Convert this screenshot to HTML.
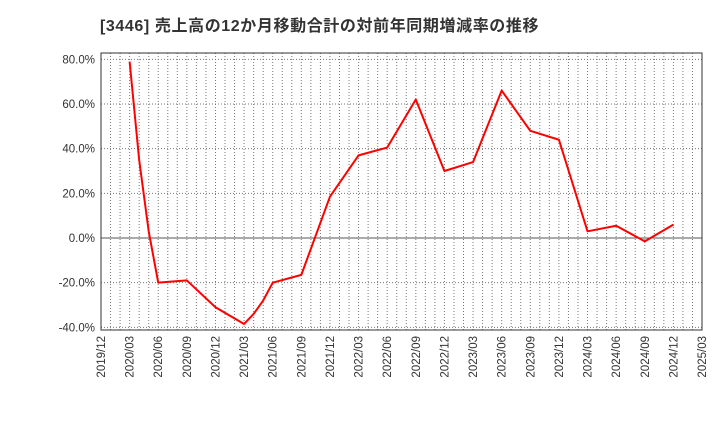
<!DOCTYPE html>
<html><head><meta charset="utf-8"><style>body{margin:0;background:#fff}svg{display:block}</style></head>
<body>
<svg id="c" width="720" height="440" xmlns="http://www.w3.org/2000/svg">
<text x="100" y="31" font-family="Liberation Sans, Noto Sans CJK JP, sans-serif" font-size="16" letter-spacing="0.6" font-weight="bold" fill="#333">[3446]  売上高の12か月移動合計の対前年同期増減率の推移</text>
</svg>
<script>
const yTicks=[80,60,40,20,0,-20,-40];
const xLabels=["2019/12","2020/03","2020/06","2020/09","2020/12","2021/03","2021/06","2021/09","2021/12","2022/03","2022/06","2022/09","2022/12","2023/03","2023/06","2023/09","2023/12","2024/03","2024/06","2024/09","2024/12","2025/03"];
// month offsets from 2019/12
const months=[3,4,5,6,9,12,15,16,17,18,21,24,27,30,33,36,39,42,45,48,51,54,57,60];
const values=[79,35,3,-20,-19,-31,-38.5,-34,-28,-20,-16.5,18.5,37,40.5,62,30,34,66,48,44,3,5.5,-1.5,6];
const svg=document.getElementById('c');const NS='http://www.w3.org/2000/svg';
const L=101,R=702,T=53,B=330;
const x=m=>L+(R-L)*m/63;
const y=v=>238-v*(268/120);
function mk(t,a){const e=document.createElementNS(NS,t);for(const k in a)e.setAttribute(k,a[k]);svg.appendChild(e);return e;}
for(let m=1;m<63;m++){
 const g=mk('line',{x1:x(m),x2:x(m),y1:T,y2:B,stroke:'#777','stroke-width':1,'stroke-dasharray':'1,2'});
 
 
}
yTicks.forEach(v=>{
 const g=mk('line',{x1:L,x2:R,y1:y(v),y2:y(v),stroke:v===0?'#555':'#777','stroke-width':1,'stroke-dasharray':v===0?'':'1,2'});
 
 
 const t=mk('text',{x:L-6,y:y(v)+4,'text-anchor':'end','font-family':'Liberation Sans, sans-serif','font-size':11.5,fill:'#333'});
 t.textContent=v.toFixed(1)+'%';
 
 
});
xLabels.forEach((s,i)=>{
 const px=x(i*3);
 const t=mk('text',{x:px+4,y:336,'text-anchor':'end','font-family':'Liberation Sans, sans-serif','font-size':11.5,fill:'#333',transform:`rotate(-90 ${px+4} 336)`});
 t.textContent=s;
 
 
});
const fr=mk('rect',{x:L,y:T,width:R-L,height:B-T,fill:'none',stroke:'#333','stroke-width':1});


const p=mk('polyline',{points:months.map((m,i)=>x(m)+','+y(values[i])).join(' '),fill:'none',stroke:'#ff0000','stroke-width':2,'stroke-linejoin':'round'});


</script>
</body></html>
